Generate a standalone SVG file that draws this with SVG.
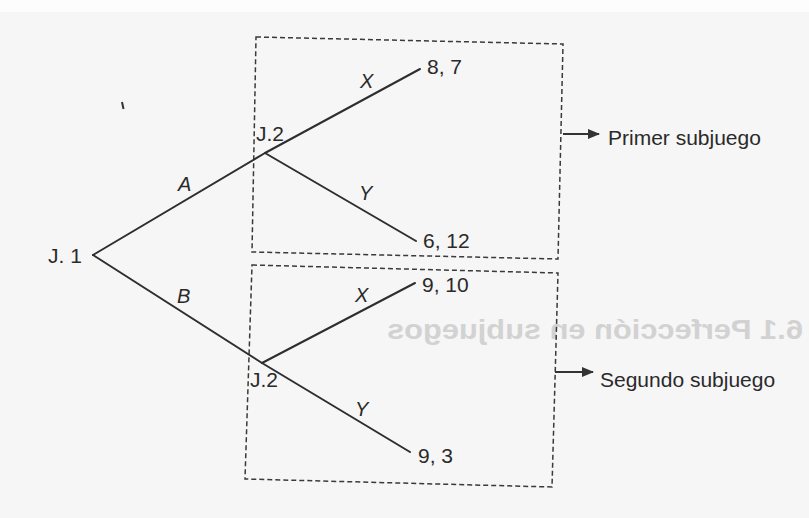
<svg xmlns="http://www.w3.org/2000/svg" width="809" height="518" viewBox="0 0 809 518">
<defs>
<marker id="ah" markerWidth="12" markerHeight="10" refX="11" refY="5" orient="auto" markerUnits="userSpaceOnUse"><path d="M0,0 L12,5 L0,10 z" fill="#333"/></marker>
<style>
.edge{stroke:#2e2e2e;stroke-width:2;fill:none;stroke-linecap:round}
.box{stroke:#3a3a3a;stroke-width:1.5;fill:none;stroke-dasharray:5 3}
.arr{stroke:#333;stroke-width:2.2;fill:none}
.t{font-family:"Liberation Sans",Arial,sans-serif;font-size:21px;fill:#2a2a2a}
.lab{font-style:italic;font-size:20px}
.ghost{font-family:"Liberation Sans",Arial,sans-serif;font-weight:bold;font-size:28px;fill:#d2d2d2}
</style>
</defs>
<rect x="0" y="0" width="809" height="518" fill="#f6f6f6"/>
<rect x="0" y="0" width="809" height="12" fill="#fdfdfd"/>
<text class="ghost" transform="scale(-1,1)" x="-803" y="339" textLength="416" lengthAdjust="spacingAndGlyphs">6.1 Perfección en subjuegos</text>
<path d="M122,102 L123.5,109" stroke="#333" stroke-width="2" fill="none"/>
<g id="subgames">
<g id="box1"><polygon class="box" points="256,37 563,44 558,259 252,252"/></g>
<g id="box2"><polygon class="box" points="252,265 558,273 552,487 245,479"/></g>
</g>
<g id="connectors">
<line class="edge" x1="93" y1="255" x2="265" y2="153"/>
<line class="edge" x1="265" y1="153" x2="420" y2="69"/>
<line class="edge" x1="265" y1="153" x2="416" y2="241"/>
<line class="edge" x1="93" y1="255" x2="262" y2="363"/>
<line class="edge" x1="262" y1="363" x2="415" y2="283"/>
<line class="edge" x1="262" y1="363" x2="410" y2="452"/>
<line class="arr" x1="563" y1="134" x2="599" y2="134" marker-end="url(#ah)"/>
<line class="arr" x1="555" y1="372" x2="593" y2="372" marker-end="url(#ah)"/>
<text class="t lab" x="178" y="191">A</text>
<text class="t lab" x="177" y="303">B</text>
<text class="t lab" x="360" y="88">X</text>
<text class="t lab" x="359" y="200">Y</text>
<text class="t lab" x="355" y="302">X</text>
<text class="t lab" x="355" y="416">Y</text>
</g>
<g id="j1"><text class="t" x="48" y="263">J. 1</text></g>
<g id="j2a"><text class="t" x="256" y="141" font-size="20">J.2</text></g>
<g id="j2b"><text class="t" x="250" y="387" font-size="20">J.2</text></g>
<g id="p87"><text class="t" x="427" y="74">8, 7</text></g>
<g id="p612"><text class="t" x="423" y="248">6, 12</text></g>
<g id="p910"><text class="t" x="422" y="292">9, 10</text></g>
<g id="p93"><text class="t" x="418" y="463">9, 3</text></g>
<g id="sub1"><text class="t" x="608" y="145">Primer subjuego</text></g>
<g id="sub2"><text class="t" x="600" y="387">Segundo subjuego</text></g>
</svg>
